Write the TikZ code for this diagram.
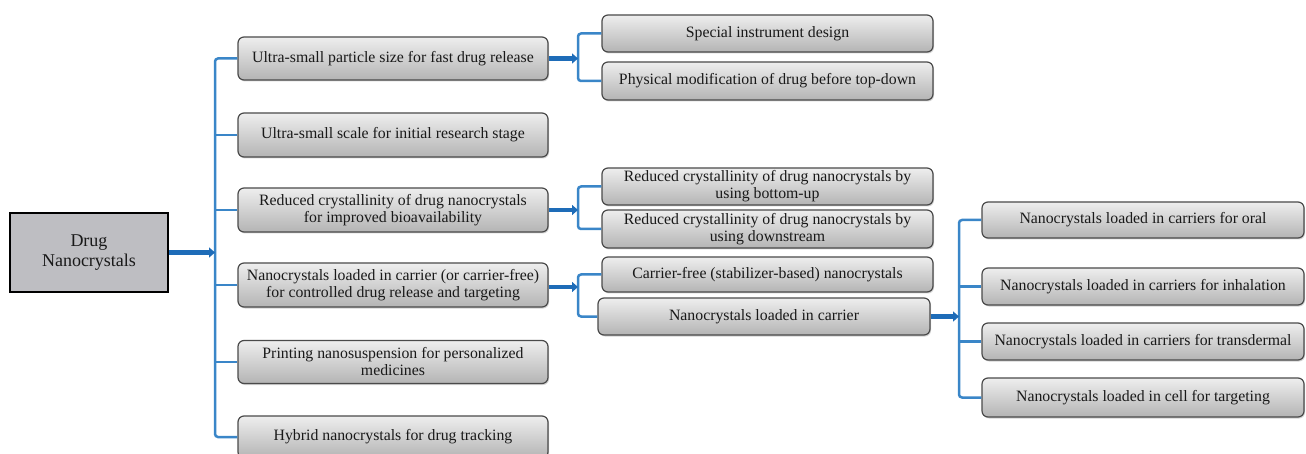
\documentclass[tikz,border=0pt]{standalone}
\usepackage{fontspec}
\setmainfont{Liberation Serif}
\usetikzlibrary{arrows.meta,shadows}
\definecolor{boxtop}{HTML}{EEEEEE}
\definecolor{boxbot}{HTML}{B4B4B4}
\definecolor{boxline}{HTML}{4A4A4A}
\definecolor{rootfill}{HTML}{BEBEC2}
\definecolor{linkblue}{HTML}{3A86C8}
\definecolor{fatblue}{HTML}{1E6CB8}
\begin{document}
\begin{tikzpicture}[x=1pt,y=-1pt,
  box/.style={draw=boxline, line width=1.2pt, rounded corners=6pt, top color=boxtop, bottom color=boxbot,
    align=center, inner sep=0pt, text=black!90, font=\fontsize{15.8}{17}\selectfont,
    drop shadow={shadow xshift=1pt, shadow yshift=-1.5pt, opacity=.35}},
  link/.style={draw=linkblue, line width=2.5pt, rounded corners=3pt},
  fat/.style={draw=fatblue, line width=4.5pt, -{Triangle[length=6pt,width=10pt]}}]
\useasboundingbox (0,0) rectangle (1306,454);

\node[draw=black, line width=2pt, fill=rootfill, minimum width=158pt, minimum height=79pt, align=center,
  font=\fontsize{18}{20}\selectfont, text=black!90] (root) at (89,252.5) {Drug\\Nanocrystals};

\node[box, minimum width=310pt, minimum height=43pt] (a1) at (393,58.5) {Ultra-small particle size for fast drug release};
\node[box, minimum width=310pt, minimum height=44pt] (a2) at (393,135) {Ultra-small scale for initial research stage};
\node[box, minimum width=310pt, minimum height=44pt] (a3) at (393,210) {Reduced crystallinity of drug nanocrystals\\for improved bioavailability};
\node[box, minimum width=310pt, minimum height=44pt] (a4) at (393,285) {Nanocrystals loaded in carrier (or carrier-free)\\for controlled drug release and targeting};
\node[box, minimum width=310pt, minimum height=43pt] (a5) at (393,362) {Printing nanosuspension for personalized\\medicines};
\node[box, minimum width=310pt, minimum height=42pt] (a6) at (393,437) {Hybrid nanocrystals for drug tracking};

\node[box, minimum width=331pt, minimum height=37pt] (b1) at (767.5,33.5) {Special instrument design};
\node[box, minimum width=331pt, minimum height=38pt] (b2) at (767.5,81) {Physical modification of drug before top-down};
\node[box, minimum width=331pt, minimum height=37pt] (b3) at (767.5,186.5) {Reduced crystallinity of drug nanocrystals by\\using bottom-up};
\node[box, minimum width=331pt, minimum height=38pt] (b4) at (767.5,229) {Reduced crystallinity of drug nanocrystals by\\using downstream};
\node[box, minimum width=331pt, minimum height=35pt] (b5) at (767.5,274.5) {Carrier-free (stabilizer-based) nanocrystals};
\node[box, minimum width=332pt, minimum height=37pt] (b6) at (764,316.5) {Nanocrystals loaded in carrier};

\node[box, minimum width=322pt, minimum height=36pt] (c1) at (1143,220) {Nanocrystals loaded in carriers for oral};
\node[box, minimum width=322pt, minimum height=37pt] (c2) at (1143,286.5) {Nanocrystals loaded in carriers for inhalation};
\node[box, minimum width=322pt, minimum height=37pt] (c3) at (1143,341.5) {Nanocrystals loaded in carriers for transdermal};
\node[box, minimum width=322pt, minimum height=39pt] (c4) at (1143,397.5) {Nanocrystals loaded in cell for targeting};

\coordinate (t0) at (215,0);
\coordinate (t1) at (578,0);
\coordinate (t2) at (959,0);

\draw[link] (a1.west) -- (a1.west -| t0) -- (a6.west -| t0) -- (a6.west);
\foreach \n in {a2,a3,a4,a5} \draw[link] (\n.west) -- (\n.west -| t0);
\draw[link] (b1.west) -- (b1.west -| t1) -- (b2.west -| t1) -- (b2.west);
\draw[link] (b3.west) -- (b3.west -| t1) -- (b4.west -| t1) -- (b4.west);
\draw[link] (b5.west) -- (b5.west -| t1) -- (b6.west -| t1) -- (b6.west);
\draw[link] (c1.west) -- (c1.west -| t2) -- (c4.west -| t2) -- (c4.west);
\foreach \n in {c2,c3} \draw[link] (\n.west) -- (\n.west -| t2);

\draw[fat] (root.east) -- (root.east -| t0);
\draw[fat] (a1.east) -- (a1.east -| t1);
\draw[fat] (a3.east) -- (a3.east -| t1);
\draw[fat] ([yshift=-2pt]a4.east) -- ([yshift=-2pt]a4.east -| t1);
\draw[fat] (b6.east) -- (b6.east -| t2);
\end{tikzpicture}
\end{document}
